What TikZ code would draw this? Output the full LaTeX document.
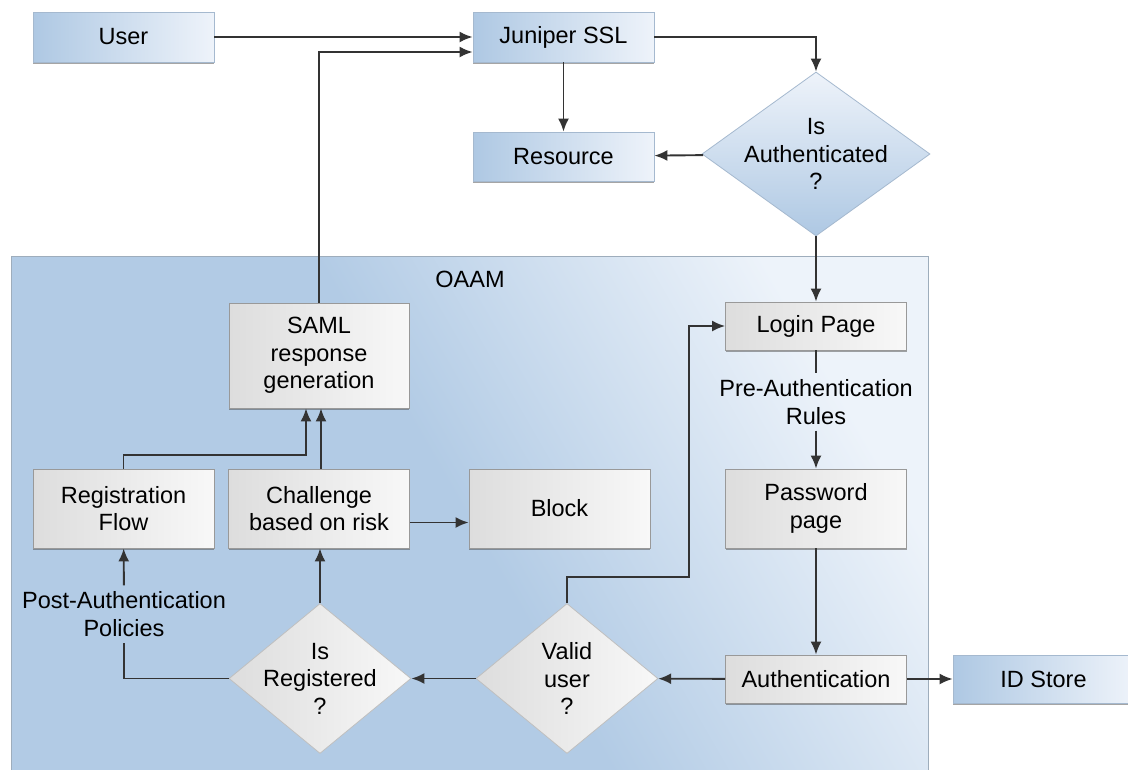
\documentclass[tikz,border=0pt]{standalone}
\usepackage{fontspec}
\setmainfont{Liberation Sans}
\usetikzlibrary{
    shapes.geometric,
    arrows.meta,
    positioning,
    shadows
}
\definecolor{boxblue}{HTML}{AEC8E3}
\definecolor{boxbluelight}{HTML}{EEF3FA}
\definecolor{boxgray}{HTML}{DDDDDD}
\definecolor{boxgraylight}{HTML}{F8F8F8}
\definecolor{oaamblue}{HTML}{B2CBE5}
\definecolor{oaamlight}{HTML}{EDF3FA}
\definecolor{flowline}{HTML}{333333}

\begin{document}
\begin{tikzpicture}[x=1pt, y=-1pt,
    font=\fontsize{23.5}{27.5}\selectfont,
    >={Latex[length=13pt,width=11pt]},
    flow/.style={draw=flowline, line width=1.9pt},
    boxshadow/.style={drop shadow={shadow xshift=0pt, shadow yshift=-2pt, fill=black!70, opacity=0.5}},
    bluebox/.style={rectangle, draw=boxblue!80!gray, line width=0.8pt, left color=boxblue, middle color=boxblue, right color=boxbluelight, minimum width=181pt, minimum height=50pt, inner sep=0pt, align=center, boxshadow},
    graybox/.style={rectangle, draw=gray!80, line width=0.8pt, left color=boxgray, right color=boxgraylight, minimum width=181pt, minimum height=49pt, inner sep=0pt, align=center, boxshadow},
    bluediamond/.style={diamond, draw=boxblue!80!gray, line width=0.8pt, bottom color=boxblue, top color=boxbluelight, minimum width=228pt, minimum height=164pt, inner sep=0pt},
    graydiamond/.style={diamond, draw=gray!50, line width=0.8pt, left color=boxgray, right color=boxgraylight, minimum width=182pt, minimum height=150pt, inner sep=0pt},
    flowtext/.style={align=center, inner sep=6pt}
]
\clip (0,0) rectangle (1128,769);
\fill[white] (0,0) rectangle (1128,769);

% OAAM area
\shade[top color=oaamlight, bottom color=oaamblue, middle color=oaamblue, shading angle=-60]
    (11,256) rectangle (928,790);
\draw[oaamblue!60!gray, line width=1pt] (11,790) -- (11,256) -- (928,256) -- (928,790);
\node (oaam) at (470,279) {OAAM};

% outside
\node[bluebox] (user) at (123.5,37) {User};
\node[bluebox] (juniper) at (563.5,37) {Juniper SSL};
\node[bluebox, minimum height=49pt] (resource) at (563.5,156.5) {Resource};
\node[bluediamond, label={[align=center]center:{Is\\Authenticated\\?}}] (authq) at (816,154) {};
\node[bluebox, minimum height=48pt] (idstore) at (1043.5,679) {ID Store};

% inside OAAM
\node[graybox, minimum height=48pt] (login) at (816,326) {Login Page};
\node[flowtext] (prerules) at (816,402) {Pre-Authentication\\Rules};
\node[graybox, minimum height=79pt] (password) at (816,508.5) {Password\\page};
\node[graybox, minimum height=48pt] (authn) at (816,679) {Authentication};
\node[graydiamond, label={[align=center]center:{Valid\\user\\?}}] (validq) at (567,678.5) {};
\node[graydiamond, label={[align=center]center:{Is\\Registered\\?}}] (isreg) at (320,678.5) {};
\node[graybox, minimum height=79pt] (challenge) at (319,508.5) {Challenge\\based on risk};
\node[graybox, minimum height=79pt] (block) at (559.5,508.5) {Block};
\node[graybox, minimum height=79pt] (regflow) at (123.5,508.5) {Registration\\Flow};
\node[flowtext] (postpol) at (124,614) {Post-Authentication\\Policies};
\node[graybox, minimum width=180pt, minimum height=105pt] (saml) at (319,355.5) {SAML\\response\\generation};

\coordinate (loopup) at (689,326);

% connectors
\draw[flow,->] (user) -- (juniper);
\draw[flow,->] (saml.north) |- ([yshift=-15pt]juniper.west);
\draw[flow,->] (juniper.east) -| (authq.north);
\draw[flow,->] (juniper) -- (resource);
\draw[flow,->] (authq) -- (resource);
\draw[flow,->] (authq) -- (login);
\draw[flow] (login) -- (prerules);
\draw[flow,->] (prerules) -- (password);
\draw[flow,->] (password) -- (authn);
\draw[flow,->] (authn) -- (idstore);
\draw[flow,->] (authn) -- (validq);
\draw[flow,->] (validq) -- (isreg);
\draw[flow,->] (validq.north) -- ++(0,-26) -| (loopup) -- (login.west);
\draw[flow,->] (isreg.north) -- (isreg.north |- challenge.south);
\draw[flow,->] ([yshift=-14pt]challenge.east) -- ([yshift=-14pt]block.west);
\draw[flow,->] ([xshift=2pt]challenge.north) -- ([xshift=2pt]saml.south);
\draw[flow,->] (regflow.north) -- ++(0,-14) -| ([xshift=-13pt]saml.south);
\draw[flow] (isreg.west) -| (postpol.south);
\draw[flow,->] (postpol) -- (regflow);
\end{tikzpicture}
\end{document}
